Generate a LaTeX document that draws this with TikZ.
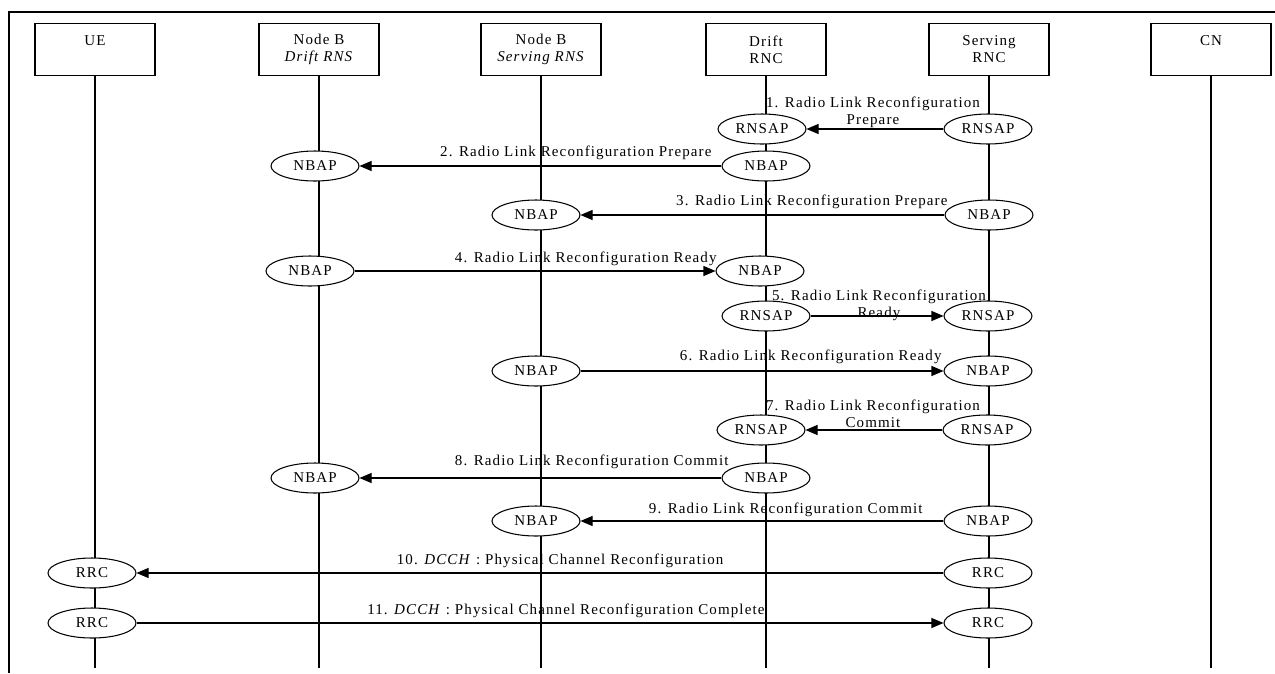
\documentclass[tikz,border=0pt]{standalone}
\usepackage{fontspec}
\setmainfont{Liberation Serif}[LetterSpace=7.5]
\usetikzlibrary{shapes.geometric,arrows.meta}
\begin{document}
\begin{tikzpicture}[x=1pt,y=-1pt,line width=1.05pt,
  every node/.style={font=\fontsize{15pt}{17pt}\selectfont},
  entity/.style={draw,rectangle,minimum width=120pt,minimum height=52pt,inner sep=0pt,align=center,anchor=north},
  proto/.style={draw,ellipse,fill=white,minimum width=88pt,minimum height=30pt,inner sep=0pt},
  msg/.style={-{Triangle[length=12pt,width=10pt]}},
  lbl/.style={inner sep=0pt,align=center},
  lblr/.style={inner sep=0pt,anchor=base east}]
\useasboundingbox (0,0) rectangle (1275,673);

% outer frame
\draw (9,673) -- (9,12) -- (1275,12);

% entities
\node[entity] (ue)  at (95,23)   {UE\\\mbox{}};
\node[entity] (nbd) at (319,23)  {Node B\\\textit{Drift RNS}};
\node[entity] (nbs) at (541,23)  {Node B\\\textit{Serving RNS}};
\node[entity] (drnc) at (766,23) {Drift\\RNC};
\node[entity] (srnc) at (989,23) {Serving\\RNC};
\node[entity] (cn)  at (1211,23) {CN\\\mbox{}};

% lifelines
\coordinate (bot) at (0,668);
\foreach \e in {ue,nbd,nbs,drnc,srnc,cn}
  \draw (\e.south) -- (\e.south |- bot);

% protocol end points
\node[proto] (r1a) at (762,129) {RNSAP};
\node[proto] (r1b) at (988,129) {RNSAP};
\node[proto] (n2a) at (315,166) {NBAP};
\node[proto] (n2b) at (766,166) {NBAP};
\node[proto] (n3a) at (536,215) {NBAP};
\node[proto] (n3b) at (989,215) {NBAP};
\node[proto] (n4a) at (310,271) {NBAP};
\node[proto] (n4b) at (760,271) {NBAP};
\node[proto] (r5a) at (766,316) {RNSAP};
\node[proto] (r5b) at (988,316) {RNSAP};
\node[proto] (n6a) at (536,371) {NBAP};
\node[proto] (n6b) at (988,371) {NBAP};
\node[proto] (r7a) at (761,430) {RNSAP};
\node[proto] (r7b) at (987,430) {RNSAP};
\node[proto] (n8a) at (315,478) {NBAP};
\node[proto] (n8b) at (766,478) {NBAP};
\node[proto] (n9a) at (536,521) {NBAP};
\node[proto] (n9b) at (988,521) {NBAP};
\node[proto] (c10a) at (92,573) {RRC};
\node[proto] (c10b) at (988,573) {RRC};
\node[proto] (c11a) at (92,623) {RRC};
\node[proto] (c11b) at (988,623) {RRC};

% messages
\draw[msg] (r1b) -- (r1a);
\draw[msg] (n2b) -- (n2a);
\draw[msg] (n3b) -- (n3a);
\draw[msg] (n4a) -- (n4b);
\draw[msg] (r5a) -- (r5b);
\draw[msg] (n6a) -- (n6b);
\draw[msg] (r7b) -- (r7a);
\draw[msg] (n8b) -- (n8a);
\draw[msg] (n9b) -- (n9a);
\draw[msg] (c10b) -- (c10a);
\draw[msg] (c11a) -- (c11b);

% message labels
\node[lbl]  (l1)  at (873,112) {1. Radio Link Reconfiguration\\Prepare};
\node[lblr] (l2)  at (712,156) {2. Radio Link Reconfiguration Prepare};
\node[lblr] (l3)  at (948,205) {3. Radio Link Reconfiguration Prepare};
\node[lblr] (l4)  at (717,262) {4. Radio Link Reconfiguration Ready};
\node[lbl]  (l5)  at (879,305) {5. Radio Link Reconfiguration\\Ready};
\node[lblr] (l6)  at (942,360) {6. Radio Link Reconfiguration Ready};
\node[lbl]  (l7)  at (873,414) {7. Radio Link Reconfiguration\\Commit};
\node[lblr] (l8)  at (729,465) {8. Radio Link Reconfiguration Commit};
\node[lblr] (l9)  at (923,513) {9. Radio Link Reconfiguration Commit};
\node[lblr] (l10) at (724,564) {10. \textit{DCCH} : Physical Channel Reconfiguration};
\node[lblr] (l11) at (765,614) {11. \textit{DCCH} : Physical Channel Reconfiguration Complete};
\end{tikzpicture}
\end{document}
